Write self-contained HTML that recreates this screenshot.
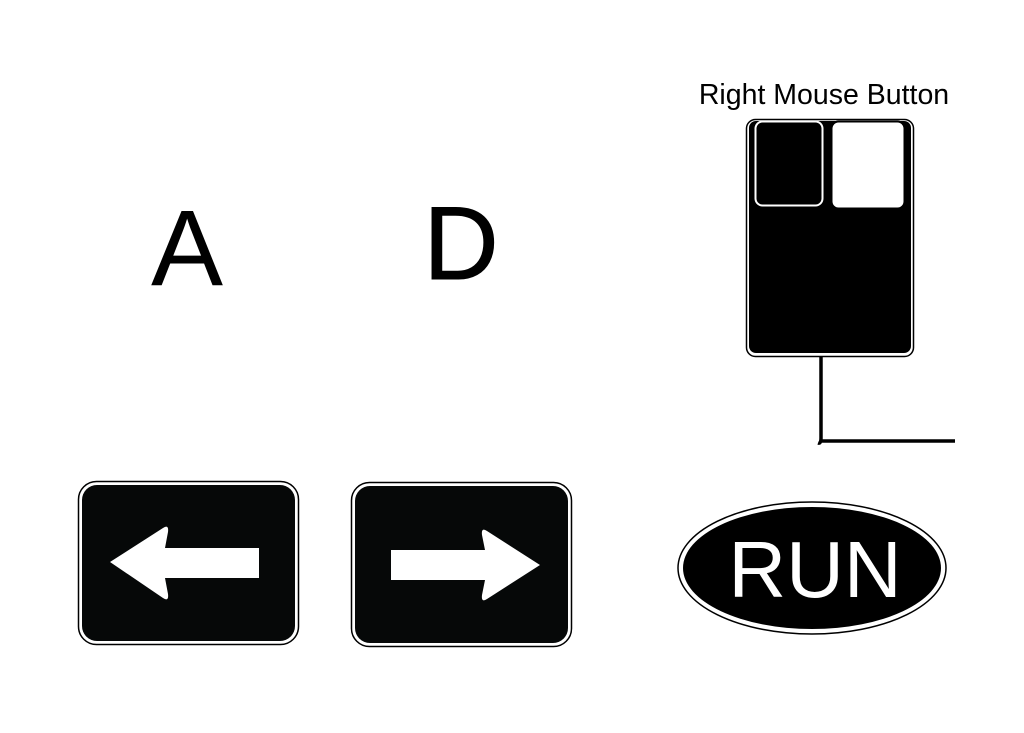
<!DOCTYPE html>
<html><head><meta charset="utf-8"><style>
html,body{margin:0;padding:0;background:#fff;width:1024px;height:733px;overflow:hidden}
</style></head><body>
<svg width="1024" height="733" viewBox="0 0 1024 733" xmlns="http://www.w3.org/2000/svg" style="font-family:'Liberation Sans',sans-serif">
<text x="187" y="285" font-size="108" text-anchor="middle" fill="#000">A</text>
<text x="461" y="279" font-size="104" text-anchor="middle" fill="#000" stroke="#000" stroke-width="1">D</text>
<text x="824" y="104" font-size="28.5" text-anchor="middle" fill="#000">Right Mouse Button</text>

<g>
<rect x="746.5" y="119.5" width="167" height="237" rx="9" fill="#fff" stroke="#000" stroke-width="1.5"/>
<rect x="749" y="121" width="162" height="232" rx="7" fill="#000"/>
<rect x="755.5" y="121.5" width="67" height="84" rx="7" fill="#000" stroke="#fff" stroke-width="2"/>
<rect x="831.5" y="121.5" width="73" height="87" rx="7" fill="#fff" stroke="#000" stroke-width="2"/>
<path d="M821 356 V438 Q821 444 818 443 M822 441 H955" fill="none" stroke="#000" stroke-width="3.5"/>
</g>

<g>
<rect x="78.5" y="481.5" width="220" height="163" rx="18" fill="#fff" stroke="#000" stroke-width="1.5"/>
<rect x="82" y="485" width="213" height="156" rx="15" fill="#060808"/>
<path d="M110 562 L163 528 Q169 524 168 532 L165 548 H259 V578 H165 L168 594 Q169 602 163 598 Z" fill="#fff"/>
</g>

<g>
<rect x="351.5" y="482.5" width="220" height="164" rx="18" fill="#fff" stroke="#000" stroke-width="1.5"/>
<rect x="355" y="486" width="213" height="157" rx="15" fill="#060808"/>
<path d="M540 565 L487 531 Q481 527 482 535 L485 550 H391 V580 H485 L482 595 Q481 603 487 599 Z" fill="#fff"/>
</g>

<g>
<ellipse cx="812" cy="568" rx="134" ry="66" fill="#fff" stroke="#000" stroke-width="1.5"/>
<ellipse cx="812" cy="568" rx="129" ry="61" fill="#000"/>
<text x="815" y="597" font-size="80" text-anchor="middle" fill="#fff">RUN</text>
</g>
</svg>
</body></html>
